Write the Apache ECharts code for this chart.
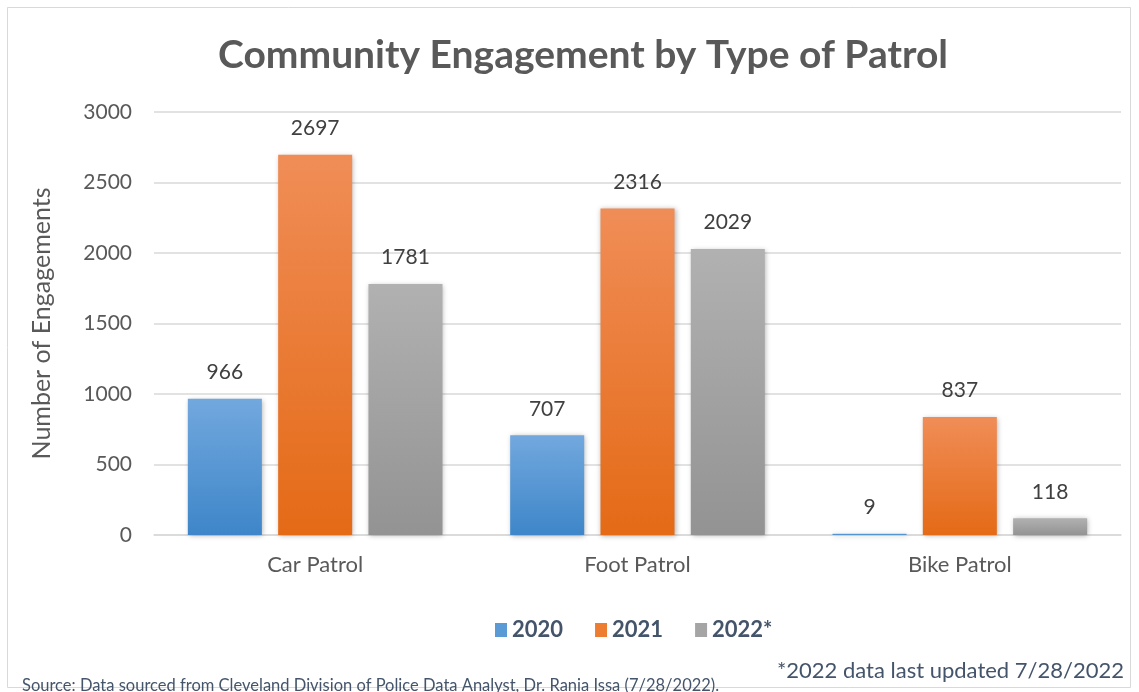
<!DOCTYPE html>
<html>
<head>
<meta charset="utf-8">
<script src="https://cdn.jsdelivr.net/npm/echarts@6/dist/echarts.min.js"></script>
<style>html,body{margin:0;padding:0;background:#fff;}#c{width:1139px;height:692px;}</style>
</head>
<body>
<div id="c"></div>
<script>
var categories = ['Car Patrol', 'Foot Patrol', 'Bike Patrol'];
var seriesNames = ['2020', '2021', '2022*'];
var values2020 = [966, 707, 9];
var values2021 = [2697, 2316, 837];
var values2022 = [1781, 2029, 118];
var yTicks = [0, 500, 1000, 1500, 2000, 2500, 3000];

var FONT = 'Lato, "Open Sans", sans-serif';
function grad(top, bottom) {
  return new echarts.graphic.LinearGradient(0, 0, 0, 1, [{offset: 0, color: top}, {offset: 1, color: bottom}]);
}
var fills = [grad('#72a8de', '#3e86c9'), grad('#f08d57', '#e46a16'), grad('#b1b1b1', '#939393')];
var legendColors = ['#5b9bd5', '#ed7d31', '#a5a5a5'];
var allValues = [values2020, values2021, values2022];

var chart = echarts.init(document.getElementById('c'));
chart.setOption({
  backgroundColor: '#fff',
  animation: false,
  graphic: [{
    type: 'rect', shape: {x: 7.5, y: 7.5, width: 1123, height: 680},
    style: {fill: 'none', stroke: '#d9d9d9', lineWidth: 1}, silent: true, z: -1
  }],
  title: [{
    text: 'Community Engagement by Type of Patrol',
    left: 578, top: 31, textAlign: 'center',
    textStyle: {fontFamily: FONT, fontSize: 39, fontWeight: 'bold', color: '#595959'}
  }, {
    text: 'Source: Data sourced from Cleveland Division of Police Data Analyst, Dr. Rania Issa (7/28/2022).',
    left: 17, top: 672,
    textStyle: {fontFamily: FONT, fontSize: 16.5, fontWeight: 'normal', color: '#44546a'}
  }, {
    text: '*2022 data last updated 7/28/2022',
    right: 10, top: 655,
    textStyle: {fontFamily: FONT, fontSize: 22, fontWeight: 'normal', color: '#44546a'}
  }],
  legend: {
    data: seriesNames.map(function (n, i) { return {name: n, itemStyle: {color: legendColors[i]}}; }),
    left: 490, top: 614,
    itemWidth: 12, itemHeight: 14, itemGap: 32,
    icon: 'rect',
    textStyle: {fontFamily: FONT, fontSize: 22, fontWeight: 'bold', color: '#44546a'}
  },
  grid: {left: 154, right: 18, top: 112, bottom: 157, containLabel: false},
  xAxis: {
    type: 'category', data: categories,
    axisLine: {lineStyle: {color: '#d9d9d9', width: 1.5}},
    axisTick: {show: false},
    axisLabel: {fontFamily: FONT, fontSize: 22, color: '#595959', margin: 19}
  },
  yAxis: {
    type: 'value', min: yTicks[0], max: yTicks[yTicks.length - 1], interval: 500,
    name: 'Number of Engagements', nameLocation: 'middle', nameGap: 100, nameRotate: 90,
    nameTextStyle: {fontFamily: FONT, fontSize: 25, color: '#595959'},
    axisLine: {show: false}, axisTick: {show: false},
    axisLabel: {fontFamily: FONT, fontSize: 21, color: '#595959', margin: 22,
      formatter: function (v) { return String(v); }},
    splitLine: {lineStyle: {color: '#d9d9d9', width: 1.5}}
  },
  series: seriesNames.map(function (n, i) {
    return {
      name: n, type: 'bar', data: allValues[i],
      barGap: '22%', barCategoryGap: '21%',
      itemStyle: {color: fills[i], shadowBlur: 5, shadowColor: 'rgba(0,0,0,0.3)', shadowOffsetX: 1, shadowOffsetY: 1},
      label: {show: true, position: 'top', distance: 16, fontFamily: FONT, fontSize: 21, color: '#404040'}
    };
  })
});
</script>
</body>
</html>
